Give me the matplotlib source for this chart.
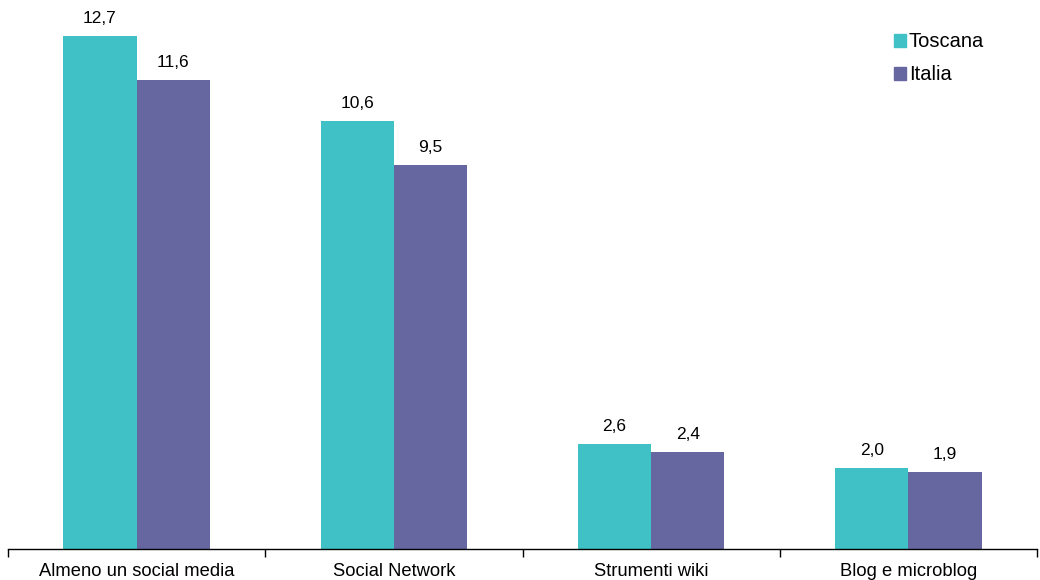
import numpy as np
import matplotlib.pyplot as plt
from matplotlib.patches import Patch

plt.rcParams['font.family'] = ['Liberation Sans', 'DejaVu Sans']

categories = ["Almeno un social media", "Social Network", "Strumenti wiki", "Blog e microblog"]
toscana = [12.7, 10.6, 2.6, 2.0]
italia = [11.6, 9.5, 2.4, 1.9]

c_tos = "#40C1C5"
c_ita = "#6667A0"

fig = plt.figure(figsize=(10.4, 5.8), dpi=100)
ax = fig.add_axes([8 / 1040, 31 / 580, 1029 / 1040, 549 / 580])

x = np.arange(len(categories))
w = 0.285
ax.bar(x - w / 2, toscana, w, color=c_tos)
ax.bar(x + w / 2, italia, w, color=c_ita)

for xi, v in zip(x - w / 2, toscana):
    ax.text(xi, v + 0.25, f"{v:.1f}".replace(".", ","), ha="center", va="bottom", fontsize=12.5)
for xi, v in zip(x + w / 2, italia):
    ax.text(xi, v + 0.25, f"{v:.1f}".replace(".", ","), ha="center", va="bottom", fontsize=12.5)

ax.set_xlim(-0.5, len(categories) - 0.5)
ax.set_ylim(0, 13.59)
ax.set_yticks([])
for s in ["top", "right", "left"]:
    ax.spines[s].set_visible(False)
ax.spines["bottom"].set_color("black")
ax.spines["bottom"].set_linewidth(1)

ax.set_xticks(x)
ax.set_xticklabels(categories, fontsize=13.2)
ax.tick_params(axis="x", which="major", length=0, pad=10)
ax.set_xticks(np.arange(-0.5, len(categories)), minor=True)
ax.tick_params(axis="x", which="minor", length=6, width=1, color="black")

handles = [Patch(color=c_tos, label="Toscana"), Patch(color=c_ita, label="Italia")]
ax.legend(handles=handles, loc="upper left", bbox_to_anchor=(0.843, 0.974), frameon=False,
          fontsize=14.5, handlelength=0.6, handleheight=0.6, handletextpad=0.15, labelspacing=0.7)

fig.savefig("out.png", dpi=100)
